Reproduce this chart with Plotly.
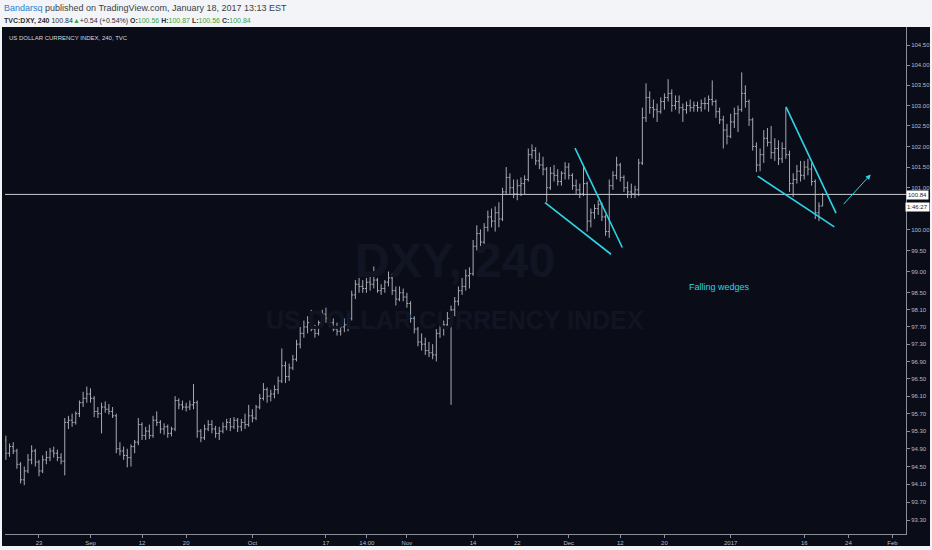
import numpy as np
import pandas as pd
import plotly.graph_objects as go

# ---------------- data (12h bars, TVC:DXY) ----------------
first_bar = ("2016-08-16", 0.5)   # first bar: second half-session of Aug 16 2016

opens = [95.10,94.80,94.95,94.85,94.55,94.20,94.40,94.65,94.85,94.60,94.40,94.65,94.70,94.85,94.80,94.70,
         94.62,95.50,95.55,95.50,95.70,95.95,96.05,96.15,96.05,95.75,95.70,95.85,95.80,95.75,95.65,94.90,
         94.85,94.75,94.70,94.95,95.05,95.45,95.20,95.30,95.20,95.55,95.50,95.35,95.40,95.25,95.35,96.00,
         95.90,95.85,95.85,95.90,95.95,95.30,95.15,95.35,95.45,95.35,95.25,95.30,95.40,95.50,95.40,95.55,
         95.40,95.50,95.45,95.65,95.60,95.85,96.05,96.25,96.10,96.15,96.25,96.45,96.80,96.55,96.75,96.95,
         97.30,97.55,97.70,97.80,97.65,97.55,97.80,98.00,97.90,97.80,97.65,97.60,97.70,97.75,97.90,98.45,
         98.70,98.65,98.60,98.75,98.70,98.80,98.55,98.60,98.75,98.85,98.55,98.35,98.50,98.40,98.25,97.90,
         97.65,97.35,97.30,97.15,97.10,97.05,97.55,97.70,97.75,97.90,98.10,98.30,98.55,98.65,98.90,98.95,
         99.60,99.90,99.70,100.05,100.30,100.20,100.40,100.25,100.90,101.25,101.00,100.85,101.05,101.10,101.20,101.80,
         101.90,101.65,101.55,101.45,101.00,101.35,101.30,101.15,101.35,101.50,101.30,101.05,100.95,100.85,101.10,100.20,
         100.40,100.50,100.60,100.30,99.95,101.05,101.30,101.55,101.25,101.00,100.90,100.85,100.95,101.60,102.70,103.20,
         102.95,102.90,102.85,103.10,103.20,103.30,103.00,103.10,102.95,102.90,103.00,102.95,103.00,102.95,103.05,103.05,
         103.15,103.10,102.85,102.65,102.40,102.25,102.60,102.80,102.90,103.30,103.10,102.65,102.00,101.55,101.80,102.20,
         102.10,101.85,101.95,101.70,101.95,101.80,101.10,101.20,101.40,101.30,101.50,101.45,101.15,100.40,100.56]
highs = [95.20,95.02,95.05,94.90,94.60,94.50,94.78,94.98,94.90,94.65,94.75,94.85,94.92,94.95,94.88,94.80,
         95.60,95.65,95.70,95.75,96.00,96.20,96.32,96.28,96.10,95.85,95.95,95.98,95.92,95.85,95.70,95.05,
         94.95,94.90,95.00,95.10,95.60,95.50,95.40,95.45,95.65,95.75,95.55,95.48,95.45,95.40,96.10,96.05,
         96.00,95.95,96.00,96.38,96.00,95.35,95.45,95.55,95.55,95.42,95.40,95.50,95.58,95.60,95.62,95.60,
         95.58,95.70,95.90,95.80,95.90,96.15,96.40,96.30,96.25,96.35,96.55,97.20,96.90,96.85,97.05,97.40,
         97.70,97.85,97.95,98.10,97.75,97.85,98.10,98.15,98.00,97.90,97.80,97.75,97.90,98.00,98.55,98.80,
         98.85,98.80,98.85,98.90,99.12,98.85,98.70,98.80,99.00,98.95,98.65,98.65,98.60,98.50,98.30,97.95,
         97.70,97.55,97.45,97.35,97.30,97.65,97.80,97.85,98.05,98.20,98.40,98.65,98.85,99.05,99.10,99.75,
         100.10,100.00,100.15,100.45,100.50,100.55,100.65,101.00,101.50,101.35,101.20,101.20,101.25,101.30,101.95,102.05,
         101.98,101.85,101.75,101.50,101.50,101.55,101.45,101.40,101.62,101.60,101.35,101.20,101.10,101.50,101.15,100.50,
         100.60,100.70,100.65,100.35,101.20,101.40,101.75,101.60,101.30,101.15,101.10,101.05,101.70,102.95,103.55,103.35,
         103.15,103.05,103.20,103.30,103.65,103.40,103.25,103.25,103.05,103.10,103.15,103.10,103.10,103.15,103.20,103.25,
         103.62,103.15,102.95,102.75,102.55,102.80,102.95,103.00,103.82,103.50,103.15,102.70,102.10,101.95,102.40,102.45,
         102.50,102.20,102.15,102.10,102.95,101.90,101.35,101.55,101.65,101.65,101.70,101.60,101.20,100.65,100.87]
lows = [94.65,94.72,94.78,94.45,94.12,94.08,94.35,94.55,94.50,94.28,94.35,94.55,94.62,94.70,94.62,94.55,
        94.30,95.35,95.40,95.45,95.62,95.85,95.95,95.95,95.62,95.60,95.25,95.72,95.68,95.60,94.80,94.75,
        94.65,94.48,94.50,94.80,94.98,95.10,95.10,95.12,95.15,95.42,95.25,95.22,95.15,95.18,95.30,95.80,
        95.78,95.75,95.78,95.80,95.15,95.05,95.10,95.30,95.25,95.15,95.10,95.25,95.32,95.30,95.35,95.28,
        95.30,95.35,95.40,95.50,95.55,95.80,96.00,95.95,95.98,96.05,96.15,96.40,96.40,96.45,96.70,96.90,
        97.20,97.45,97.55,97.60,97.45,97.50,97.75,97.80,97.70,97.60,97.50,97.50,97.58,97.60,97.85,98.35,
        98.50,98.50,98.50,98.55,98.60,98.50,98.45,98.50,98.65,98.45,98.20,98.30,98.30,98.15,97.80,97.55,
        97.25,97.15,97.05,97.00,96.95,96.90,97.45,97.50,97.65,95.90,97.95,98.20,98.45,98.55,98.60,98.90,
        99.50,99.55,99.65,99.95,100.05,99.95,100.05,100.20,100.85,100.85,100.75,100.70,100.80,100.85,101.15,101.70,
        101.55,101.45,101.30,100.65,100.95,101.15,101.05,101.05,101.20,101.20,100.95,100.85,100.75,100.80,99.95,100.05,
        100.25,100.35,100.20,99.85,99.80,100.95,101.20,101.15,100.90,100.75,100.75,100.75,100.80,101.55,102.60,102.80,
        102.70,102.60,102.80,102.90,103.10,102.85,102.90,102.80,102.60,102.80,102.85,102.85,102.85,102.85,102.90,102.85,
        103.00,102.70,102.55,101.95,102.05,102.20,102.45,102.35,102.85,102.95,102.50,101.90,101.38,101.40,101.60,102.00,
        101.70,101.65,101.55,101.60,101.70,100.90,100.78,101.10,101.15,101.20,101.30,101.05,100.25,100.20,100.56]
closes = [94.80,94.95,94.85,94.55,94.20,94.40,94.65,94.85,94.60,94.40,94.65,94.70,94.85,94.80,94.70,94.62,
          95.50,95.55,95.50,95.70,95.95,96.05,96.15,96.05,95.75,95.70,95.85,95.80,95.75,95.65,94.90,94.85,
          94.75,94.70,94.95,95.05,95.45,95.20,95.30,95.20,95.55,95.50,95.35,95.40,95.25,95.35,96.00,95.90,
          95.85,95.85,95.90,95.95,95.30,95.15,95.35,95.45,95.35,95.25,95.30,95.40,95.50,95.40,95.55,95.40,
          95.50,95.45,95.65,95.60,95.85,96.05,96.25,96.10,96.15,96.25,96.45,96.80,96.55,96.75,96.95,97.30,
          97.55,97.70,97.80,97.65,97.55,97.80,98.00,97.90,97.80,97.65,97.60,97.70,97.75,97.90,98.45,98.70,
          98.65,98.60,98.75,98.70,98.80,98.55,98.60,98.75,98.85,98.55,98.35,98.50,98.40,98.25,97.90,97.65,
          97.35,97.30,97.15,97.10,97.05,97.55,97.70,97.75,97.90,98.10,98.30,98.55,98.65,98.90,98.95,99.60,
          99.90,99.70,100.05,100.30,100.20,100.40,100.25,100.90,101.25,101.00,100.85,101.05,101.10,101.20,101.80,101.90,
          101.65,101.55,101.45,101.00,101.35,101.30,101.15,101.35,101.50,101.30,101.05,100.95,100.85,101.10,100.20,100.40,
          100.50,100.60,100.30,99.95,101.05,101.30,101.55,101.25,101.00,100.90,100.85,100.95,101.60,102.70,103.20,102.95,
          102.90,102.85,103.10,103.20,103.30,103.00,103.10,102.95,102.90,103.00,102.95,103.00,102.95,103.05,103.05,103.15,
          103.10,102.85,102.65,102.40,102.25,102.60,102.80,102.90,103.30,103.10,102.65,102.00,101.55,101.80,102.20,102.10,
          101.85,101.95,101.70,101.95,101.80,101.10,101.20,101.40,101.30,101.50,101.45,101.15,100.40,100.56,100.84]

last_price = 100.84

# axis labels
tick_dates = ["2016-08-23", "2016-09-01", "2016-09-12", "2016-09-20", "2016-10-03", "2016-10-17",
              "2016-10-24", "2016-11-01", "2016-11-14", "2016-11-22", "2016-12-01", "2016-12-12",
              "2016-12-20", "2017-01-02", "2017-01-16", "2017-01-24", "2017-02-01"]
tick_time = [0, 0, 0, 0, 0, 0, 0.55, 0, 0, 0, 0, 0, 0, 0, 0, 0, 0]
tick_text = ["23", "Sep", "12", "20", "Oct", "17", "14:00", "Nov", "14", "22", "Dec", "12", "20",
             "2017", "16", "24", "Feb"]
price_ticks = [104.5, 104.0, 103.5, 103.0, 102.5, 102.0, 101.5, 101.0, 100.0, 99.5, 99.0, 98.5,
               98.1, 97.7, 97.3, 96.9, 96.5, 96.1, 95.7, 95.3, 94.9, 94.5, 94.1, 93.7, 93.3]

# drawings (start date, start session fraction, start price, end date, end fraction, end price)
wedge_lines = [
    ("2016-12-01", 0.85, 101.96, "2016-12-12", 0.27, 99.57),
    ("2016-11-25", 0.77, 100.64, "2016-12-08", 0.74, 99.41),
    ("2017-01-11", 0.52, 102.97, "2017-01-20", 0.32, 100.39),
    ("2017-01-05", 0.68, 101.28, "2017-01-20", 0.09, 100.06),
]
arrow_line = ("2017-01-23", 0.17, 100.57, "2017-01-27", 0.03, 101.32)
note_pos = ("2016-12-29", 0.55, 98.64)

# ---------------- build ----------------
days = pd.bdate_range("2016-08-16", "2017-02-10")


def pos(date, frac=0.0):
    return 2 * (days.get_loc(pd.Timestamp(date)) + frac)


x0 = pos(*first_bar)
xs = x0 + np.arange(len(closes))

BG = "#0a0d18"
GRAY = "#a7aab3"
CYAN = "#2ed3e6"
AX = "#8b8f99"

W, H = 932, 550
L, R, T, B = 5, 26, 27, 16
pw, ph = W - L - R, H - T - B


def px(x):
    return (x - L) / pw


def py(y):
    return (H - B - y) / ph


fig = go.Figure()
fig.add_trace(go.Ohlc(x=xs, open=opens, high=highs, low=lows, close=closes,
                      increasing=dict(line=dict(color=GRAY, width=1)),
                      decreasing=dict(line=dict(color=GRAY, width=1)),
                      tickwidth=0.4, hoverinfo="skip", showlegend=False))

xlo, xhi = pos("2016-08-16", 0.38), pos("2017-02-02", 0.83)
fig.add_trace(go.Scatter(x=[xlo, xhi], y=[last_price, last_price], mode="lines",
                         line=dict(color="#c9ccd3", width=1), hoverinfo="skip", showlegend=False))

for (d0, f0, p0, d1, f1, p1) in wedge_lines:
    fig.add_trace(go.Scatter(x=[pos(d0, f0), pos(d1, f1)], y=[p0, p1], mode="lines",
                             line=dict(color=CYAN, width=1.6), hoverinfo="skip", showlegend=False))

d0, f0, p0, d1, f1, p1 = arrow_line
fig.add_annotation(x=pos(d1, f1), y=np.log10(p1), ax=pos(d0, f0), ay=np.log10(p0),
                   xref="x", yref="y", axref="x", ayref="y", text="", showarrow=True,
                   arrowhead=2, arrowsize=1, arrowwidth=1, arrowcolor=CYAN)
fig.add_annotation(x=pos(note_pos[0], note_pos[1]), y=np.log10(note_pos[2]), xref="x", yref="y",
                   xanchor="center", yanchor="middle",
                   text="Falling wedges", showarrow=False,
                   font=dict(family="Liberation Sans, Arial, sans-serif", size=9, color=CYAN))

# dark panel
fig.add_shape(type="rect", xref="paper", yref="paper", x0=px(2), x1=px(930), y0=py(546), y1=py(27),
              fillcolor=BG, line=dict(width=0), layer="below")

# watermark
fig.add_annotation(x=px(455), y=py(260), xref="paper", yref="paper", text="<b>DXY, 240</b>",
                   xanchor="center", yanchor="middle",
                   showarrow=False, font=dict(family="Liberation Sans, Arial", size=48, color="#111523"))
fig.add_annotation(x=px(455), y=py(320), xref="paper", yref="paper", text="<b>US DOLLAR CURRENCY INDEX</b>",
                   xanchor="center", yanchor="middle",
                   showarrow=False, font=dict(family="Liberation Sans, Arial", size=25, color="#111523"))

# header texts
FONT = "Liberation Sans, Arial, sans-serif"
fig.add_annotation(x=px(2), y=py(8), xref="paper", yref="paper", xanchor="left", yanchor="middle",
                   showarrow=False, font=dict(family=FONT, size=9, color="#3b3f47"),
                   text="<span style='color:#2a83d1'>Bandarsq</span> published on TradingView.com, "
                        "January 18, 2017 13:13 EST")
G = "#3aa53f"
fig.add_annotation(x=px(2), y=py(20.5), xref="paper", yref="paper", xanchor="left", yanchor="middle",
                   showarrow=False, font=dict(family=FONT, size=7, color="#2a2e36"),
                   text=f"<b>TVC:DXY, 240</b> 100.84<span style='color:{G}'>▲</span>+0.54 (+0.54%) "
                        f"<b>O:</b><span style='color:{G}'>100.56</span> <b>H:</b><span style='color:{G}'>100.87</span> "
                        f"<b>L:</b><span style='color:{G}'>100.56</span> <b>C:</b><span style='color:{G}'>100.84</span>")
fig.add_annotation(x=px(7), y=py(37.5), xref="paper", yref="paper", xanchor="left", yanchor="middle",
                   showarrow=False, font=dict(family=FONT, size=6, color="#d6d8de"),
                   text="US DOLLAR CURRENCY INDEX, 240, TVC")

# price label boxes
fig.add_annotation(x=px(918), y=py(194.5), xref="paper", yref="paper", showarrow=False,
                   xanchor="center", yanchor="middle",
                   text="100.84", bgcolor="#ffffff", borderpad=1,
                   font=dict(family=FONT, size=6, color="#1d2027"))
fig.add_annotation(x=px(918), y=py(206.5), xref="paper", yref="paper", showarrow=False,
                   xanchor="center", yanchor="middle",
                   text="1:46:27", bgcolor="#ffffff", borderpad=1,
                   font=dict(family=FONT, size=6, color="#1d2027"))

fig.update_layout(
    width=W, height=H, margin=dict(l=L, r=R, t=T, b=B, autoexpand=False),
    paper_bgcolor="#f3f4f7", plot_bgcolor=BG, showlegend=False,
    xaxis=dict(range=[xlo, xhi], tickmode="array", automargin=False,
               tickvals=[pos(d, f) for d, f in zip(tick_dates, tick_time)], ticktext=tick_text,
               showgrid=False, zeroline=False, showline=True, linecolor=AX, linewidth=1,
               ticks="outside", ticklen=3, tickcolor=AX,
               tickfont=dict(family=FONT, size=6, color="#b8bbc3"),
               rangeslider=dict(visible=False), fixedrange=True),
    yaxis=dict(type="log", side="right", range=[np.log10(92.99), np.log10(104.95)], automargin=False,
               tickmode="array", tickvals=price_ticks, ticktext=[f"{v:.2f}" for v in price_ticks],
               showgrid=False, zeroline=False, showline=True, linecolor=AX, linewidth=1,
               ticks="outside", ticklen=3, tickcolor=AX,
               tickfont=dict(family=FONT, size=6, color="#b8bbc3")),
)

fig.write_html("out.html", config={"displayModeBar": False},
               post_script="document.body.style.margin='0';document.body.style.overflow='hidden';")
